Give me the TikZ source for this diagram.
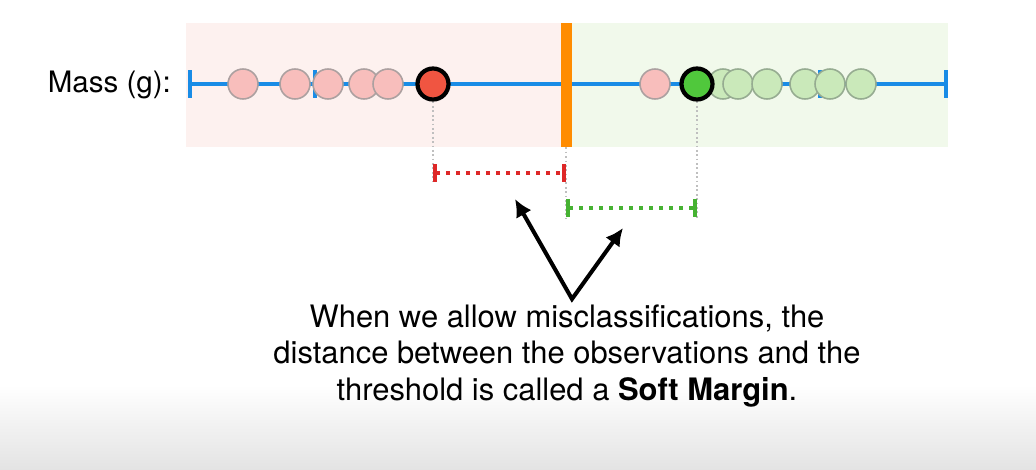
\documentclass[tikz,border=0pt]{standalone}
\usepackage{fontspec}
\setmainfont{TeX Gyre Heros}
\usepackage{tikz}
\usetikzlibrary{arrows.meta,calc}
\definecolor{pinkbg}{RGB}{253,241,239}
\definecolor{greenbg}{RGB}{241,249,235}
\definecolor{axisblue}{RGB}{25,140,230}
\definecolor{threshorange}{RGB}{255,140,0}
\definecolor{pinkobs}{RGB}{248,190,188}
\definecolor{pinkrim}{RGB}{172,160,160}
\definecolor{greenobs}{RGB}{202,233,186}
\definecolor{greenrim}{RGB}{150,172,145}
\definecolor{redpick}{RGB}{240,85,65}
\definecolor{greenpick}{RGB}{80,200,60}
\definecolor{redmargin}{RGB}{222,40,40}
\definecolor{greenmargin}{RGB}{70,178,50}
\tikzset{
  >={Latex[length=10pt,width=10pt]},
}
\tikzstyle{axis}=[axisblue,line width=2.3pt]
\tikzstyle{obs}=[circle,inner sep=0pt,minimum size=0.6cm,line width=0.9pt]
\tikzstyle{redobs}=[obs,fill=pinkobs,draw=pinkrim]
\tikzstyle{grnobs}=[obs,fill=greenobs,draw=greenrim]
\tikzstyle{picked}=[circle,inner sep=0pt,minimum size=0.62cm,line width=2.4pt,draw=black]
\tikzstyle{guide}=[black!25,line width=0.8pt,dash pattern=on 1pt off 1.5pt]
\tikzstyle{margin}=[line width=2.2pt,dash pattern=on 2.3pt off 3.4pt,{Bar[width=0.36cm]}-{Bar[width=0.36cm]}]
\tikzstyle{pointer}=[line width=2.3pt,<->,line join=miter]
\tikzstyle{every node}=[font=\fontsize{17.6}{20.6}\selectfont]

\begin{document}
\begin{tikzpicture}[x=0.02cm,y=-0.02cm]
    \useasboundingbox (0,0) rectangle (1036,470);
    \shade[top color=white,bottom color=black!11] (0,385) rectangle (1036,470);
    \fill[pinkbg] (186,23) rectangle (565,147);
    \fill[greenbg] (565,23) rectangle (948,147);
    \node[anchor=base east,font=\fontsize{16.8}{20}\selectfont] (mass) at (177,92) {Mass (g):};
    \coordinate (lo) at (190,84);
    \coordinate (hi) at (946,84);
    \draw[axis] (lo) -- (hi);
    \foreach \x in {190,315,820,946}
      \draw[axis] (\x,70) -- (\x,98);
    \node[fill=threshorange,inner sep=0pt,minimum width=0.22cm,minimum height=2.48cm] (thr) at (566,85) {};
    \foreach \x [count=\i] in {243,295,328,364,388,655}
      \node[redobs] (r\i) at (\x,84) {};
    \foreach \x [count=\i] in {723,738,767,805,830,861}
      \node[grnobs] (g\i) at (\x,84) {};
    \node[picked,fill=redpick] (mis) at (433,84) {};
    \node[picked,fill=greenpick] (hit) at (697,84) {};
    \coordinate (rl) at (433,173);
    \coordinate (rr) at (566,173);
    \coordinate (gl) at (566,208);
    \coordinate (gr) at (697,208);
    \draw[guide] (mis.south) -- ($(rl)+(0,10)$);
    \draw[guide] (thr.south) -- ($(gl)+(0,10)$);
    \draw[guide] (hit.south) -- ($(gr)+(0,10)$);
    \draw[margin,redmargin] (rl) -- (rr);
    \draw[margin,greenmargin] (gl) -- (gr);
    \node[align=center] (note) at (567,356) {When we allow misclassifications, the\\
      distance between the observations and the\\
      threshold is called a \textbf{Soft Margin}.};
    \coordinate (apex) at (572,299);
    \coordinate (tipl) at (515,199);
    \coordinate (tipr) at (623,228);
    \draw[pointer] (tipl) -- (apex) -- (tipr);
\end{tikzpicture}
\end{document}
